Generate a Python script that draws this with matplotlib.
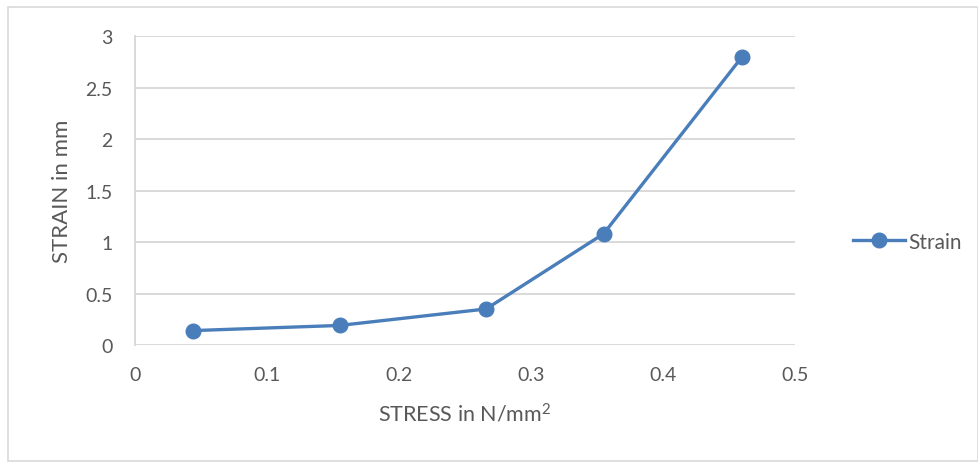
import matplotlib
matplotlib.use("Agg")
import matplotlib.pyplot as plt
from matplotlib.patches import Rectangle

# stress (N/mm^2) vs strain (mm)
stress = [0.044, 0.155, 0.266, 0.355, 0.46]
strain = [0.14, 0.19, 0.35, 1.08, 2.80]

plt.rcParams["font.family"] = ["Lato", "DejaVu Sans"]
plt.rcParams["mathtext.fontset"] = "custom"
plt.rcParams["mathtext.rm"] = "Lato"
plt.rcParams["mathtext.default"] = "regular"

line_color = "#4a7ebb"
text_color = "#595959"
grid_color = "#d9d9d9"

fig = plt.figure(figsize=(9.79, 4.64), dpi=100)
ax = fig.add_axes([0.1379, 0.2543, 0.812 - 0.1379, 0.920 - 0.2543])

ax.plot(stress, strain, color=line_color, linewidth=2.4, marker="o",
        markersize=10.5, label="Strain", zorder=3)

ax.set_xlim(0, 0.5)
ax.set_ylim(0, 3)
ax.set_xticks([0, 0.1, 0.2, 0.3, 0.4, 0.5])
ax.set_xticklabels(["0", "0.1", "0.2", "0.3", "0.4", "0.5"])
ax.set_yticks([0, 0.5, 1, 1.5, 2, 2.5, 3])
ax.set_yticklabels(["0", "0.5", "1", "1.5", "2", "2.5", "3"])

ax.grid(axis="y", color=grid_color, linewidth=1.4)
ax.set_axisbelow(True)
for side in ["top", "right", "bottom"]:
    ax.spines[side].set_visible(False)
ax.spines["left"].set_color(grid_color)
ax.spines["left"].set_linewidth(1.4)
ax.tick_params(length=0, labelsize=14, colors=text_color)
ax.tick_params(axis="y", pad=16)
ax.tick_params(axis="x", pad=15)

ax.set_xlabel("STRESS in N/mm$^{2}$", fontsize=15.5, color=text_color, labelpad=14)
ax.set_ylabel("STRAIN in mm", fontsize=16, color=text_color, labelpad=10)

ax.legend(loc="center left", bbox_to_anchor=(1.06, 0.335), frameon=False,
          fontsize=15, labelcolor=text_color, handlelength=2.5,
          handletextpad=0.15)

# outer chart border
fig.patches.append(Rectangle((8 / 979, 2 / 464), 1 - 8 / 979 - 0.001, 1 - 10 / 464,
                             transform=fig.transFigure, fill=False,
                             edgecolor=grid_color, linewidth=1.2))

fig.savefig("out.png", dpi=100, facecolor="white")
